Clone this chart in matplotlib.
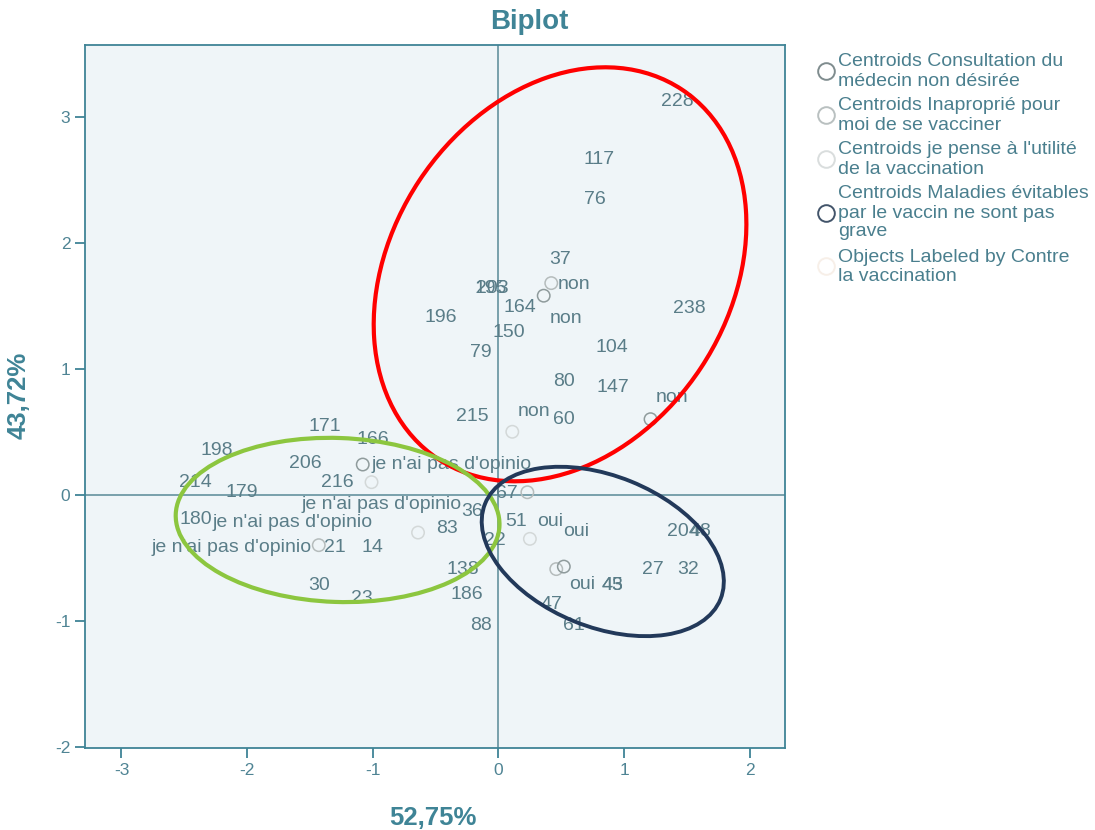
import matplotlib
matplotlib.use("Agg")
import matplotlib.pyplot as plt
from matplotlib.patches import Ellipse
from matplotlib.lines import Line2D

plt.rcParams['font.family'] = ['Liberation Sans', 'DejaVu Sans']
plt.rcParams['axes.unicode_minus'] = False

# object labels (row numbers and category names) with their biplot coordinates
obj_labels = ["228", "117", "76", "37", "non", "195", "203", "164", "non", "196",
              "150", "238", "79", "104", "80", "147", "non", "215", "non", "60",
              "171", "166", "198", "206", "je n'ai pas d'opinio", "216", "214", "179",
              "67", "je n'ai pas d'opinio", "36", "180", "je n'ai pas d'opinio", "51",
              "oui", "oui", "83", "204", "48", "22", "je n'ai pas d'opinio", "21", "14",
              "138", "27", "32", "oui", "45", "43", "30", "23", "186", "47", "61", "88"]
obj_x = [1.42, 0.80, 0.77, 0.49, 0.60, -0.06, -0.05, 0.17, 0.54, -0.46,
         0.08, 1.52, -0.14, 0.90, 0.52, 0.91, 1.38, -0.21, 0.28, 0.52,
         -1.38, -1.00, -2.24, -1.54, -0.37, -1.28, -2.41, -2.04,
         0.07, -0.93, -0.21, -2.41, -1.64, 0.14,
         0.41, 0.62, -0.41, 1.47, 1.61, -0.03, -2.12, -1.30, -1.00,
         -0.28, 1.23, 1.51, 0.67, 0.91, 0.91, -1.43, -1.09, -0.25, 0.42, 0.60, -0.14]
obj_y = [3.12, 2.66, 2.34, 1.87, 1.67, 1.64, 1.64, 1.49, 1.40, 1.41,
         1.29, 1.48, 1.13, 1.17, 0.90, 0.85, 0.77, 0.62, 0.66, 0.60,
         0.54, 0.44, 0.35, 0.25, 0.24, 0.10, 0.10, 0.02,
         0.01, -0.08, -0.13, -0.20, -0.22, -0.21,
         -0.21, -0.29, -0.27, -0.29, -0.29, -0.36, -0.42, -0.42, -0.42,
         -0.59, -0.59, -0.59, -0.71, -0.72, -0.72, -0.72, -0.82, -0.79, -0.87, -1.04, -1.04]

# category centroids, one list per variable
cent_consult_x = [0.36, 1.21, -1.08, 0.52]
cent_consult_y = [1.58, 0.60, 0.24, -0.57]
cent_inapp_x = [0.42, 0.23, -1.43, 0.46]
cent_inapp_y = [1.68, 0.02, -0.40, -0.59]
cent_utilite_x = [0.11, -1.01, -0.64, 0.25]
cent_utilite_y = [0.50, 0.10, -0.30, -0.35]

legend_labels = ["Centroids Consultation du\nmédecin non désirée",
                 "Centroids Inaproprié pour\nmoi de se vacciner",
                 "Centroids je pense à l'utilité\nde la vaccination",
                 "Centroids Maladies évitables\npar le vaccin ne sont pas\ngrave",
                 "Objects Labeled by Contre\nla vaccination"]
legend_colors = ["#7f8c8e", "#b9c0c0", "#d9dddd", "#42546a", "#f7efe8"]

teal = "#3f8496"
label_col = "#5a7d88"

fig = plt.figure(figsize=(10.95, 8.30), dpi=100)
ax = fig.add_axes([85 / 1095, 1 - 748 / 830, 700 / 1095, 703 / 830])
ax.set_facecolor("#eff5f8")
ax.set_xlim(-3.29, 2.28)
ax.set_ylim(-2.01, 3.57)

ax.axhline(0, color="#6f9aa6", lw=1.3, zorder=1)
ax.axvline(0, color="#6f9aa6", lw=1.3, zorder=1)

ax.scatter(cent_utilite_x, cent_utilite_y, s=80, facecolors="none",
           edgecolors="#d3d8d8", linewidths=1.1, zorder=2)
ax.scatter(cent_inapp_x, cent_inapp_y, s=80, facecolors="none",
           edgecolors="#b5bcbc", linewidths=1.1, zorder=2)
ax.scatter(cent_consult_x, cent_consult_y, s=80, facecolors="none",
           edgecolors="#8f9b9c", linewidths=1.1, zorder=2)

for lab, x, y in zip(obj_labels, obj_x, obj_y):
    ax.text(x, y, lab, ha="center", va="center", fontsize=14,
            color=label_col, zorder=3)

# highlighted groups
ax.add_patch(Ellipse((0.49, 1.75), 338 / 125.7, 443 / 126, angle=-33.5,
                     fill=False, ec="#ff0000", lw=3.0, zorder=4))
ax.add_patch(Ellipse((-1.28, -0.20), 324 / 125.7, 164 / 126, angle=-2,
                     fill=False, ec="#8cc63f", lw=3.0, zorder=4))
ax.add_patch(Ellipse((0.83, -0.45), 254 / 125.7, 151 / 126, angle=-22,
                     fill=False, ec="#22395a", lw=2.8, zorder=4))

for sp in ax.spines.values():
    sp.set_color(teal)
    sp.set_linewidth(1.3)
ax.set_xticks([-3, -2, -1, 0, 1, 2])
ax.set_yticks([-2, -1, 0, 1, 2, 3])
ax.tick_params(colors=teal, labelcolor="#4f8494", labelsize=12.5, length=7,
               width=1.3, direction="out")

fig.text(529 / 1095, 1 - 22 / 830, "Biplot", fontsize=20, fontweight="bold",
         color=teal, ha="center", va="center")
ax.set_xlabel("52,75%", fontsize=18.5, fontweight="bold", color=teal)
ax.set_ylabel("43,72%", fontsize=18.5, fontweight="bold", color=teal)
ax.xaxis.set_label_coords(0.497, -0.083)
ax.yaxis.set_label_coords(-0.077, 0.502)

# legend drawn line by line with tight spacing
line_h = 19
y_pos = 62
for lab, col in zip(legend_labels, legend_colors):
    n = lab.count("\n") + 1
    yc = y_pos + (n - 1) * line_h / 2
    fig.add_artist(Line2D([826 / 1095], [1 - yc / 830], marker="o", ms=12,
                          mfc="none", mec=col, mew=1.4, transform=fig.transFigure))
    for i, part in enumerate(lab.split("\n")):
        fig.text(838 / 1095, 1 - (y_pos + i * line_h) / 830, part, fontsize=14,
                 color="#4a7f8e", va="center", ha="left")
    y_pos += n * line_h + 6

fig.savefig("out.png", dpi=100)
